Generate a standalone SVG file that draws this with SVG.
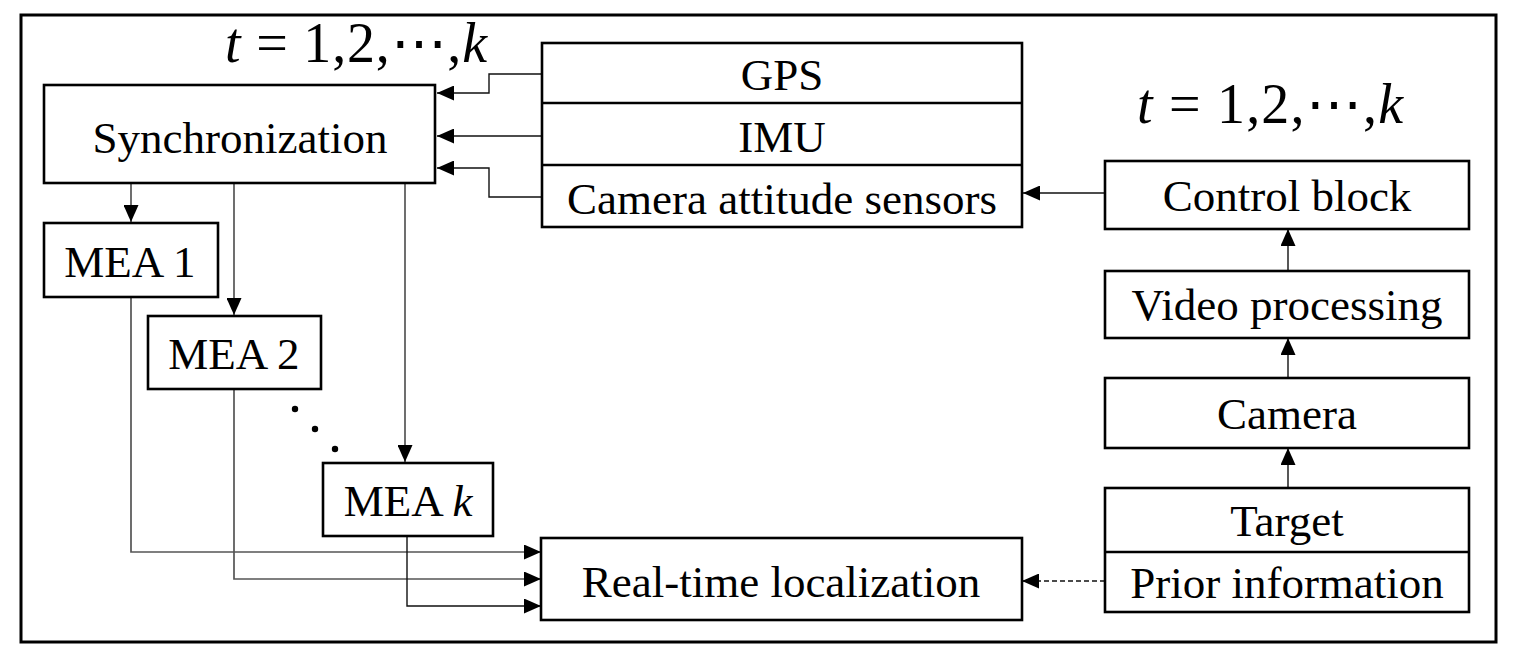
<svg xmlns="http://www.w3.org/2000/svg" width="1514" height="664" viewBox="0 0 1514 664">
<style>
.box{fill:#fff;stroke:#000;stroke-width:2.6}
.lbl{font-family:"Liberation Serif","Times New Roman",serif;font-size:45px;text-anchor:middle;fill:#000}
.math{font-family:"Liberation Serif","DejaVu Serif",serif;font-size:56px;fill:#000}
.c{fill:none;stroke:#111;stroke-width:1.4}
.g{fill:none;stroke:#555;stroke-width:1.7}
.d{fill:none;stroke:#111;stroke-width:1.4;stroke-dasharray:5 3}
</style>
<defs>
<marker id="ah" markerUnits="userSpaceOnUse" markerWidth="17" markerHeight="15" refX="17" refY="7.5" orient="auto" viewBox="0 0 17 15">
<path d="M0,0 L17,7.5 L0,15 z" fill="#000"/>
</marker>
</defs>
<rect x="0" y="0" width="1514" height="664" fill="#fff"/>
<rect x="21" y="15" width="1475" height="627" fill="none" stroke="#000" stroke-width="3"/>

<text class="math" x="225" y="62" textLength="262" lengthAdjust="spacing"><tspan font-style="italic">t</tspan> = 1,2,⋯,<tspan font-style="italic">k</tspan></text>
<text class="math" x="1137" y="123" textLength="266" lengthAdjust="spacing"><tspan font-style="italic">t</tspan> = 1,2,⋯,<tspan font-style="italic">k</tspan></text>

<g id="connectors">
<path class="c" d="M542,74 H489 V93 H437" marker-end="url(#ah)"/>
<path class="c" d="M542,136 H437" marker-end="url(#ah)"/>
<path class="c" d="M542,197 H489 V168 H437" marker-end="url(#ah)"/>
<path class="c" d="M1105,193 H1023" marker-end="url(#ah)"/>
<path class="g" d="M131,183 V222" marker-end="url(#ah)"/>
<path class="g" d="M234,183 V315" marker-end="url(#ah)"/>
<path class="g" d="M405,183 V462" marker-end="url(#ah)"/>
<path class="g" d="M131,297 V552 H541" marker-end="url(#ah)"/>
<path class="g" d="M234,389 V579 H541" marker-end="url(#ah)"/>
<path class="c" d="M407,536 V606 H541" marker-end="url(#ah)"/>
<path class="c" d="M1288,271 V229" marker-end="url(#ah)"/>
<path class="c" d="M1288,378 V338" marker-end="url(#ah)"/>
<path class="c" d="M1288,488 V448" marker-end="url(#ah)"/>
<path class="d" d="M1105,581 H1022" marker-end="url(#ah)"/>
<circle cx="295" cy="409" r="3.2" fill="#000"/>
<circle cx="315" cy="429" r="3.2" fill="#000"/>
<circle cx="335" cy="449" r="3.2" fill="#000"/>
</g>

<g id="sync">
<rect class="box" x="44" y="85" width="391" height="98"/>
<text class="lbl" x="240" y="153">Synchronization</text>
</g>
<g id="sensors">
<rect class="box" x="542" y="43" width="480" height="184" stroke-width="3"/>
<line x1="542" y1="103" x2="1022" y2="103" stroke="#000" stroke-width="2.6"/>
<line x1="542" y1="165" x2="1022" y2="165" stroke="#000" stroke-width="2.6"/>
<text class="lbl" x="782" y="90">GPS</text>
<text class="lbl" x="782" y="152">IMU</text>
<text class="lbl" x="782" y="214">Camera attitude sensors</text>
</g>
<g id="mea1">
<rect class="box" x="44" y="223" width="174" height="74"/>
<text class="lbl" x="130" y="277">MEA 1</text>
</g>
<g id="mea2">
<rect class="box" x="148" y="316" width="173" height="73"/>
<text class="lbl" x="234" y="369">MEA 2</text>
</g>
<g id="meak">
<rect class="box" x="323" y="463" width="170" height="73"/>
<text class="lbl" x="408" y="516">MEA <tspan font-style="italic">k</tspan></text>
</g>
<g id="realtime">
<rect class="box" x="541" y="538" width="481" height="82"/>
<text class="lbl" x="781" y="597">Real-time localization</text>
</g>
<g id="control">
<rect class="box" x="1105" y="161" width="364" height="68"/>
<text class="lbl" x="1287" y="211">Control block</text>
</g>
<g id="video">
<rect class="box" x="1105" y="271" width="364" height="67"/>
<text class="lbl" x="1287" y="320">Video processing</text>
</g>
<g id="camera">
<rect class="box" x="1105" y="378" width="364" height="70"/>
<text class="lbl" x="1287" y="429">Camera</text>
</g>
<g id="target">
<rect class="box" x="1105" y="488" width="364" height="124"/>
<line x1="1105" y1="552" x2="1469" y2="552" stroke="#000" stroke-width="2.6"/>
<text class="lbl" x="1287" y="536">Target</text>
<text class="lbl" x="1287" y="598">Prior information</text>
</g>
</svg>
